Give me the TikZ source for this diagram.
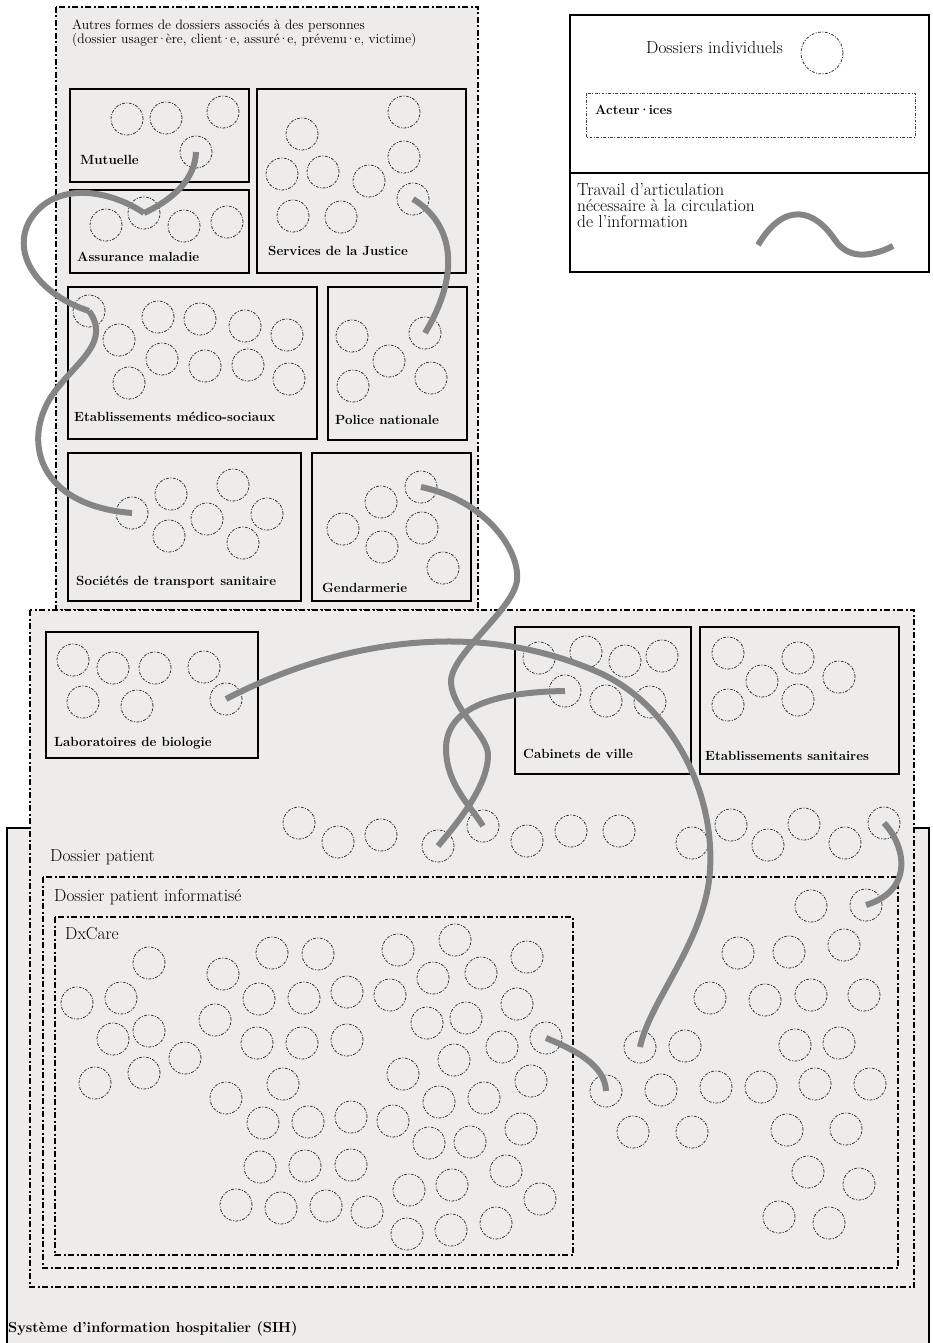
\documentclass[tikz,border=0pt]{standalone}
\usepackage{fontspec}
\usetikzlibrary{positioning}
\definecolor{fond}{HTML}{EDECEB}
\definecolor{trait}{HTML}{858585}
\newcommand{\mdot}{\kern-0.1em·\kern-0.1em}
\tikzset{
  dossier/.style={circle, draw=black!85, line width=0.75pt,
                  dash pattern=on 2.8pt off 1.5pt on 1pt off 1.5pt,
                  minimum size=32pt, inner sep=0pt},
  acteur/.style={draw=black, line width=1.5pt, fill=fond},
  zone/.style={draw=black, line width=1.3pt,
               dash pattern=on 6pt off 2.5pt on 2pt off 2.5pt},
  lien/.style={draw=trait, line width=6pt},
  etiq/.style={anchor=west, inner sep=0pt, font=\fontsize{13.3}{15}\selectfont\bfseries},
  texte/.style={anchor=west, inner sep=0pt, font=\fontsize{17.4}{16}\selectfont},
}

\begin{document}
\begin{tikzpicture}[x=1pt, y=-1pt]
  \useasboundingbox (0,0) rectangle (932,1343);

  % grandes zones
  \draw[draw=black, line width=1.5pt, fill=fond] (7,828) rectangle (929,1360);
  \draw[zone, fill=fond] (56,7) rectangle (478,610);
  \draw[zone, fill=fond] (30,610) rectangle (914,1287);
  \draw[zone] (43,877) rectangle (898,1268);
  \draw[zone] (55,917) rectangle (573,1255);

  \node[texte, anchor=north west, align=left, font=\fontsize{13.6}{14}\selectfont]
    (t-autres) at (72,20) {Autres formes de dossiers associés à des personnes\\(dossier usager\mdot ère, client\mdot e, assuré\mdot e, prévenu\mdot e, victime)};
  \node[texte] (t-dp) at (50,857) {Dossier patient};
  \node[texte] (t-dpi) at (54,897) {Dossier patient informatisé};
  \node[texte] (t-dx) at (65,934) {DxCare};
  \node[etiq, font=\fontsize{14.6}{16}\selectfont\bfseries] (t-sih) at (8,1329) {Système d'information hospitalier (SIH)};

  % acteur-ices
  \draw[acteur] (70,89) rectangle (249,182);
  \node[etiq] (t-mut) at (80,160) {Mutuelle};
  \draw[acteur] (70,190) rectangle (249,273);
  \node[etiq] (t-ass) at (77,257) {Assurance maladie};
  \draw[acteur] (257,89) rectangle (466,273);
  \node[etiq] (t-jus) at (268,251) {Services de la Justice};
  \draw[acteur] (68,287) rectangle (317,439);
  \node[etiq] (t-ems) at (74,417) {Etablissements médico-sociaux};
  \draw[acteur] (328,287) rectangle (467,440);
  \node[etiq] (t-pol) at (335,420) {Police nationale};
  \draw[acteur] (68,453) rectangle (301,601);
  \node[etiq] (t-sts) at (76,582) {Sociétés de transport sanitaire};
  \draw[acteur] (312,453) rectangle (471,601);
  \node[etiq] (t-gen) at (322,588) {Gendarmerie};
  \draw[acteur] (46,632) rectangle (258,758);
  \node[etiq] (t-lab) at (54,743) {Laboratoires de biologie};
  \draw[acteur] (515,627) rectangle (691,774);
  \node[etiq] (t-cab) at (523,754) {Cabinets de ville};
  \draw[acteur] (700,627) rectangle (899,774);
  \node[etiq] (t-ets) at (705,756) {Etablissements sanitaires};

  % dossiers individuels
  \foreach \x/\y [count=\i] in {127/119, 166/118, 223/112, 196/152}
    \node[dossier] (mut-\i) at (\x,\y) {};
  \foreach \x/\y [count=\i] in {106/225, 144/213, 184/226, 227/222}
    \node[dossier] (ass-\i) at (\x,\y) {};
  \foreach \x/\y [count=\i] in {302/134, 404/112, 282/174, 323/172, 369/181,
      404/157, 413/199, 293/216, 341/217}
    \node[dossier] (jus-\i) at (\x,\y) {};
  \foreach \x/\y [count=\i] in {89/311, 119/340, 158/317, 200/319, 245/326,
      287/335, 162/359, 205/366, 248/365, 289/379, 129/383}
    \node[dossier] (ems-\i) at (\x,\y) {};
  \foreach \x/\y [count=\i] in {352/336, 425/333, 389/361, 353/386, 431/378}
    \node[dossier] (pol-\i) at (\x,\y) {};
  \foreach \x/\y [count=\i] in {132/513, 171/494, 233/485, 207/519, 267/514,
      169/536, 243/543}
    \node[dossier] (sts-\i) at (\x,\y) {};
  \foreach \x/\y [count=\i] in {421/487, 381/502, 343/529, 422/528, 382/547, 443/568}
    \node[dossier] (gen-\i) at (\x,\y) {};
  \foreach \x/\y [count=\i] in {73/660, 113/668, 155/668, 204/667, 83/702,
      137/706, 226/699}
    \node[dossier] (lab-\i) at (\x,\y) {};
  \foreach \x/\y [count=\i] in {539/658, 586/652, 625/661, 662/656, 565/691,
      606/701, 650/702}
    \node[dossier] (cab-\i) at (\x,\y) {};
  \foreach \x/\y [count=\i] in {728/653, 798/658, 762/681, 839/677, 728/705, 798/700}
    \node[dossier] (ets-\i) at (\x,\y) {};
  \foreach \x/\y [count=\i] in {299/823, 338/842, 381/835, 438/846, 483/826,
      527/841, 571/831, 619/831, 692/843, 731/825, 768/845, 804/824, 845/843, 884/823}
    \node[dossier] (dp-\i) at (\x,\y) {};
  \foreach \x/\y [count=\i] in {149/963, 77/1003, 121/998, 113/1039, 149/1031,
      185/1058, 95/1083, 144/1073, 223/974, 272/953, 318/954, 398/950, 455/940,
      527/957, 259/999, 304/998, 347/992, 390/995, 433/978, 481/973, 215/1020,
      257/1043, 302/1043, 347/1040, 427/1023, 466/1018, 517/1004, 546/1038,
      502/1047, 454/1060, 403/1074, 283/1084, 226/1098, 531/1081, 484/1098,
      439/1102, 263/1123, 308/1122, 351/1117, 393/1121, 429/1143, 470/1142,
      521/1129, 260/1167, 305/1166, 351/1165, 409/1190, 452/1185, 506/1171,
      236/1205, 281/1208, 326/1206, 367/1212, 540/1199, 407/1234, 451/1230, 496/1223}
    \node[dossier] (dx-\i) at (\x,\y) {};
  \foreach \x/\y [count=\i] in {811/906, 866/905, 738/953, 789/952, 844/945,
      710/998, 765/1000, 811/995, 864/995, 640/1047, 685/1046, 795/1045, 839/1043,
      606/1091, 661/1090, 716/1087, 761/1087, 815/1084, 870/1084, 633/1132,
      692/1132, 787/1130, 846/1129, 808/1172, 859/1184, 779/1217, 829/1223}
    \node[dossier] (dpi-\i) at (\x,\y) {};

  % travail d'articulation
  \draw[lien] (mut-4.center) .. controls (195,180) and (172,200) .. (ass-2.center);
  \draw[lien] (ass-2.center) .. controls (110,190) and (55,180) .. (30,220)
    .. controls (10,255) and (40,295) .. (ems-1.center);
  \draw[lien] (ems-1.center) .. controls (110,340) and (80,360) .. (60,385)
    .. controls (20,430) and (30,505) .. (sts-1.center);
  \draw[lien] (jus-7.center) .. controls (455,225) and (460,275) .. (pol-2.center);
  \draw[lien] (gen-1.center) .. controls (485,500) and (520,550) .. (517,580)
    .. controls (514,610) and (449,655) .. (451,683)
    .. controls (453,711) and (488,735) .. (488,755)
    .. controls (488,785) and (460,820) .. (dp-4.center);
  \draw[lien] (cab-5.center) .. controls (500,692) and (445,705) .. (446,750)
    .. controls (447,785) and (470,805) .. (dp-5.center);
  \draw[lien] (lab-7.center) .. controls (330,645) and (470,615) .. (600,673)
    .. controls (670,705) and (715,790) .. (710,870)
    .. controls (706,940) and (650,1000) .. (dpi-10.center);
  \draw[lien] (dx-28.center) .. controls (575,1050) and (605,1065) .. (dpi-14.center);
  \draw[lien] (dp-14.center) .. controls (905,845) and (915,890) .. (dpi-2.center);

  % legende
  \draw[line width=1.2pt] (570,15) rectangle (929,272);
  \draw[line width=1.2pt] (570,173) -- (929,173);
  \node[texte] (t-ind) at (646,48) {Dossiers individuels};
  \node[dossier, minimum size=42pt] (d-leg) at (822,53) {};
  \draw[draw=black!75, line width=0.7pt,
        dash pattern=on 2.8pt off 1.5pt on 1pt off 1.5pt] (586,93) rectangle (915,137);
  \node[etiq] (t-act) at (595,110) {Acteur\mdot ices};
  \node[texte, anchor=north west, align=left] (t-trav) at (577,183)
    {Travail d'articulation\\nécessaire à la circulation\\de l'information};
  \draw[lien] (758,245) .. controls (785,200) and (815,210) .. (835,240)
    .. controls (850,262) and (875,255) .. (893,246);
\end{tikzpicture}
\end{document}
